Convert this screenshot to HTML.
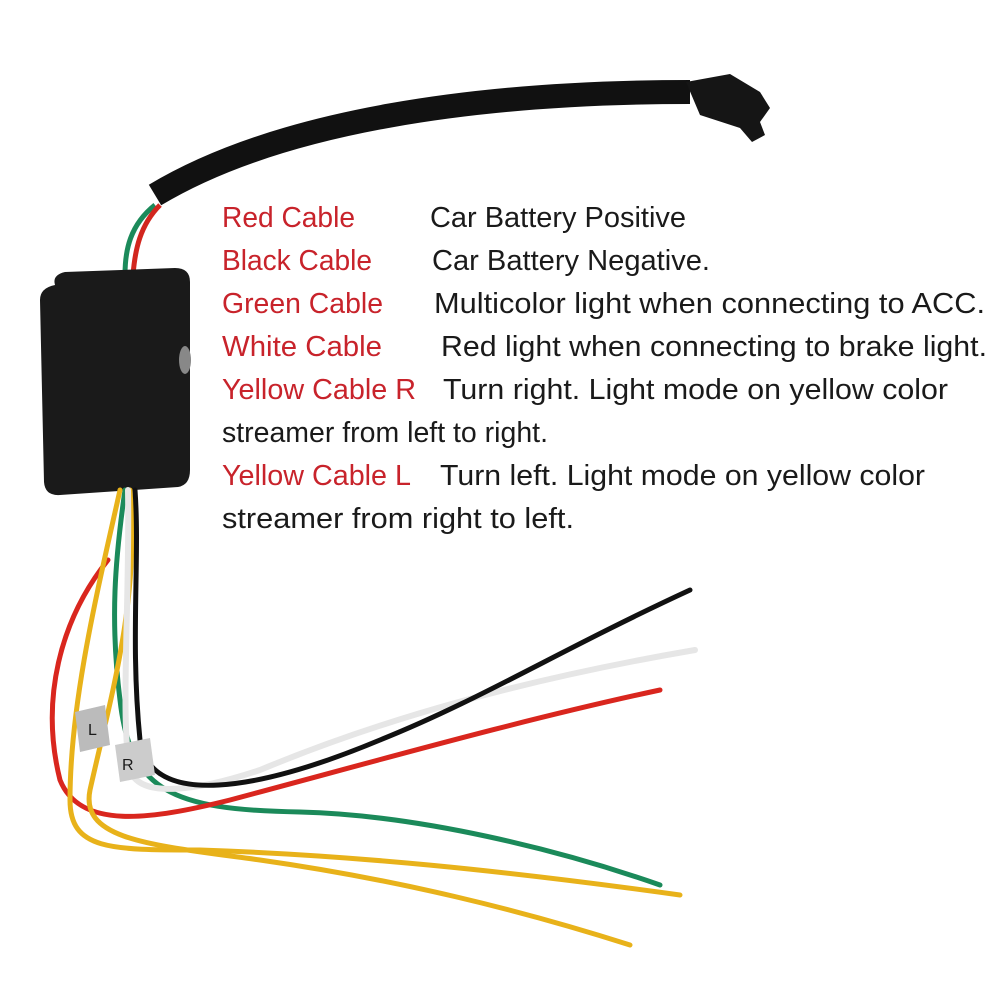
<!DOCTYPE html>
<html><head><meta charset="utf-8"><style>
html,body{margin:0;padding:0;background:#fff;width:1000px;height:1000px;overflow:hidden}
text{font-family:"Liberation Sans",sans-serif;font-size:29px}
.r{fill:#c8232b}.k{fill:#1a1a1a}
</style></head><body>
<svg width="1000" height="1000" viewBox="0 0 1000 1000" xmlns="http://www.w3.org/2000/svg">
<path d="M155 195 C 280 120, 480 92, 690 92" stroke="#111" stroke-width="24" fill="none"/>
<path d="M155 205 C 130 225, 125 250, 125 275" stroke="#1b8a5a" stroke-width="5" fill="none"/>
<path d="M160 205 C 140 225, 135 250, 133 275" stroke="#d2261e" stroke-width="5" fill="none"/>
<path d="M686 82 L730 74 L760 92 L770 108 L760 122 L765 135 L752 142 L740 128 L700 115 Z" fill="#151515"/>
<path d="M55 285 Q52 275 65 272 L175 268 Q190 268 190 282 L190 470 Q190 485 178 487 L60 495 Q45 496 44 482 L40 300 Q40 288 55 285Z" fill="#1a1a1a"/>
<ellipse cx="185" cy="360" rx="6" ry="14" fill="#888"/>
<g fill="none" stroke-width="5" stroke-linecap="round">
<path d="M125 490 C 115 560, 110 620, 120 700 C 130 790, 170 810, 300 812 C 420 815, 560 850, 660 885" stroke="#1b8a5a"/>
<path d="M108 560 C 60 620, 40 700, 60 780 C 80 830, 150 820, 230 800 C 380 760, 520 720, 660 690" stroke="#d9261e"/>
<path d="M120 490 C 100 580, 70 700, 70 800 C 70 850, 110 850, 200 850 C 350 855, 500 870, 680 895" stroke="#e8b21a"/>
<path d="M130 490 C 140 600, 110 700, 90 790 C 80 840, 150 845, 260 860 C 400 880, 520 910, 630 945" stroke="#e8b21a"/>
<path d="M128 490 C 130 600, 120 720, 130 770 C 140 800, 200 790, 260 770 C 380 720, 520 680, 695 650" stroke="#e6e6e6" stroke-width="6"/>
<path d="M135 490 C 140 560, 130 640, 140 740 C 150 810, 260 790, 380 740 C 480 700, 560 650, 690 590" stroke="#111"/>
</g>
<path d="M75 712 L105 705 L110 745 L80 752Z" fill="#bbb"/>
<text x="88" y="735" style="font-size:16px" class="k">L</text>
<path d="M115 745 L150 738 L155 775 L120 782Z" fill="#ccc"/>
<text x="122" y="770" style="font-size:16px" class="k">R</text>
<g lengthAdjust="spacingAndGlyphs">
<text class="r" x="222" y="227" textLength="133" lengthAdjust="spacingAndGlyphs">Red Cable</text>
<text class="k" x="430" y="227" textLength="256" lengthAdjust="spacingAndGlyphs">Car Battery Positive</text>
<text class="r" x="222" y="270" textLength="150" lengthAdjust="spacingAndGlyphs">Black Cable</text>
<text class="k" x="432" y="270" textLength="278" lengthAdjust="spacingAndGlyphs">Car Battery Negative.</text>
<text class="r" x="222" y="313" textLength="161" lengthAdjust="spacingAndGlyphs">Green Cable</text>
<text class="k" x="434" y="313" textLength="551" lengthAdjust="spacingAndGlyphs">Multicolor light when connecting to ACC.</text>
<text class="r" x="222" y="356" textLength="160" lengthAdjust="spacingAndGlyphs">White Cable</text>
<text class="k" x="441" y="356" textLength="546" lengthAdjust="spacingAndGlyphs">Red light when connecting to brake light.</text>
<text class="r" x="222" y="399" textLength="194" lengthAdjust="spacingAndGlyphs">Yellow Cable R</text>
<text class="k" x="443" y="399" textLength="505" lengthAdjust="spacingAndGlyphs">Turn right. Light mode on yellow color</text>
<text class="k" x="222" y="442" textLength="326" lengthAdjust="spacingAndGlyphs">streamer from left to right.</text>
<text class="r" x="222" y="485" textLength="189" lengthAdjust="spacingAndGlyphs">Yellow Cable L</text>
<text class="k" x="440" y="485" textLength="485" lengthAdjust="spacingAndGlyphs">Turn left. Light mode on yellow color</text>
<text class="k" x="222" y="528" textLength="352" lengthAdjust="spacingAndGlyphs">streamer from right to left.</text>
</g>
</svg>
</body></html>
